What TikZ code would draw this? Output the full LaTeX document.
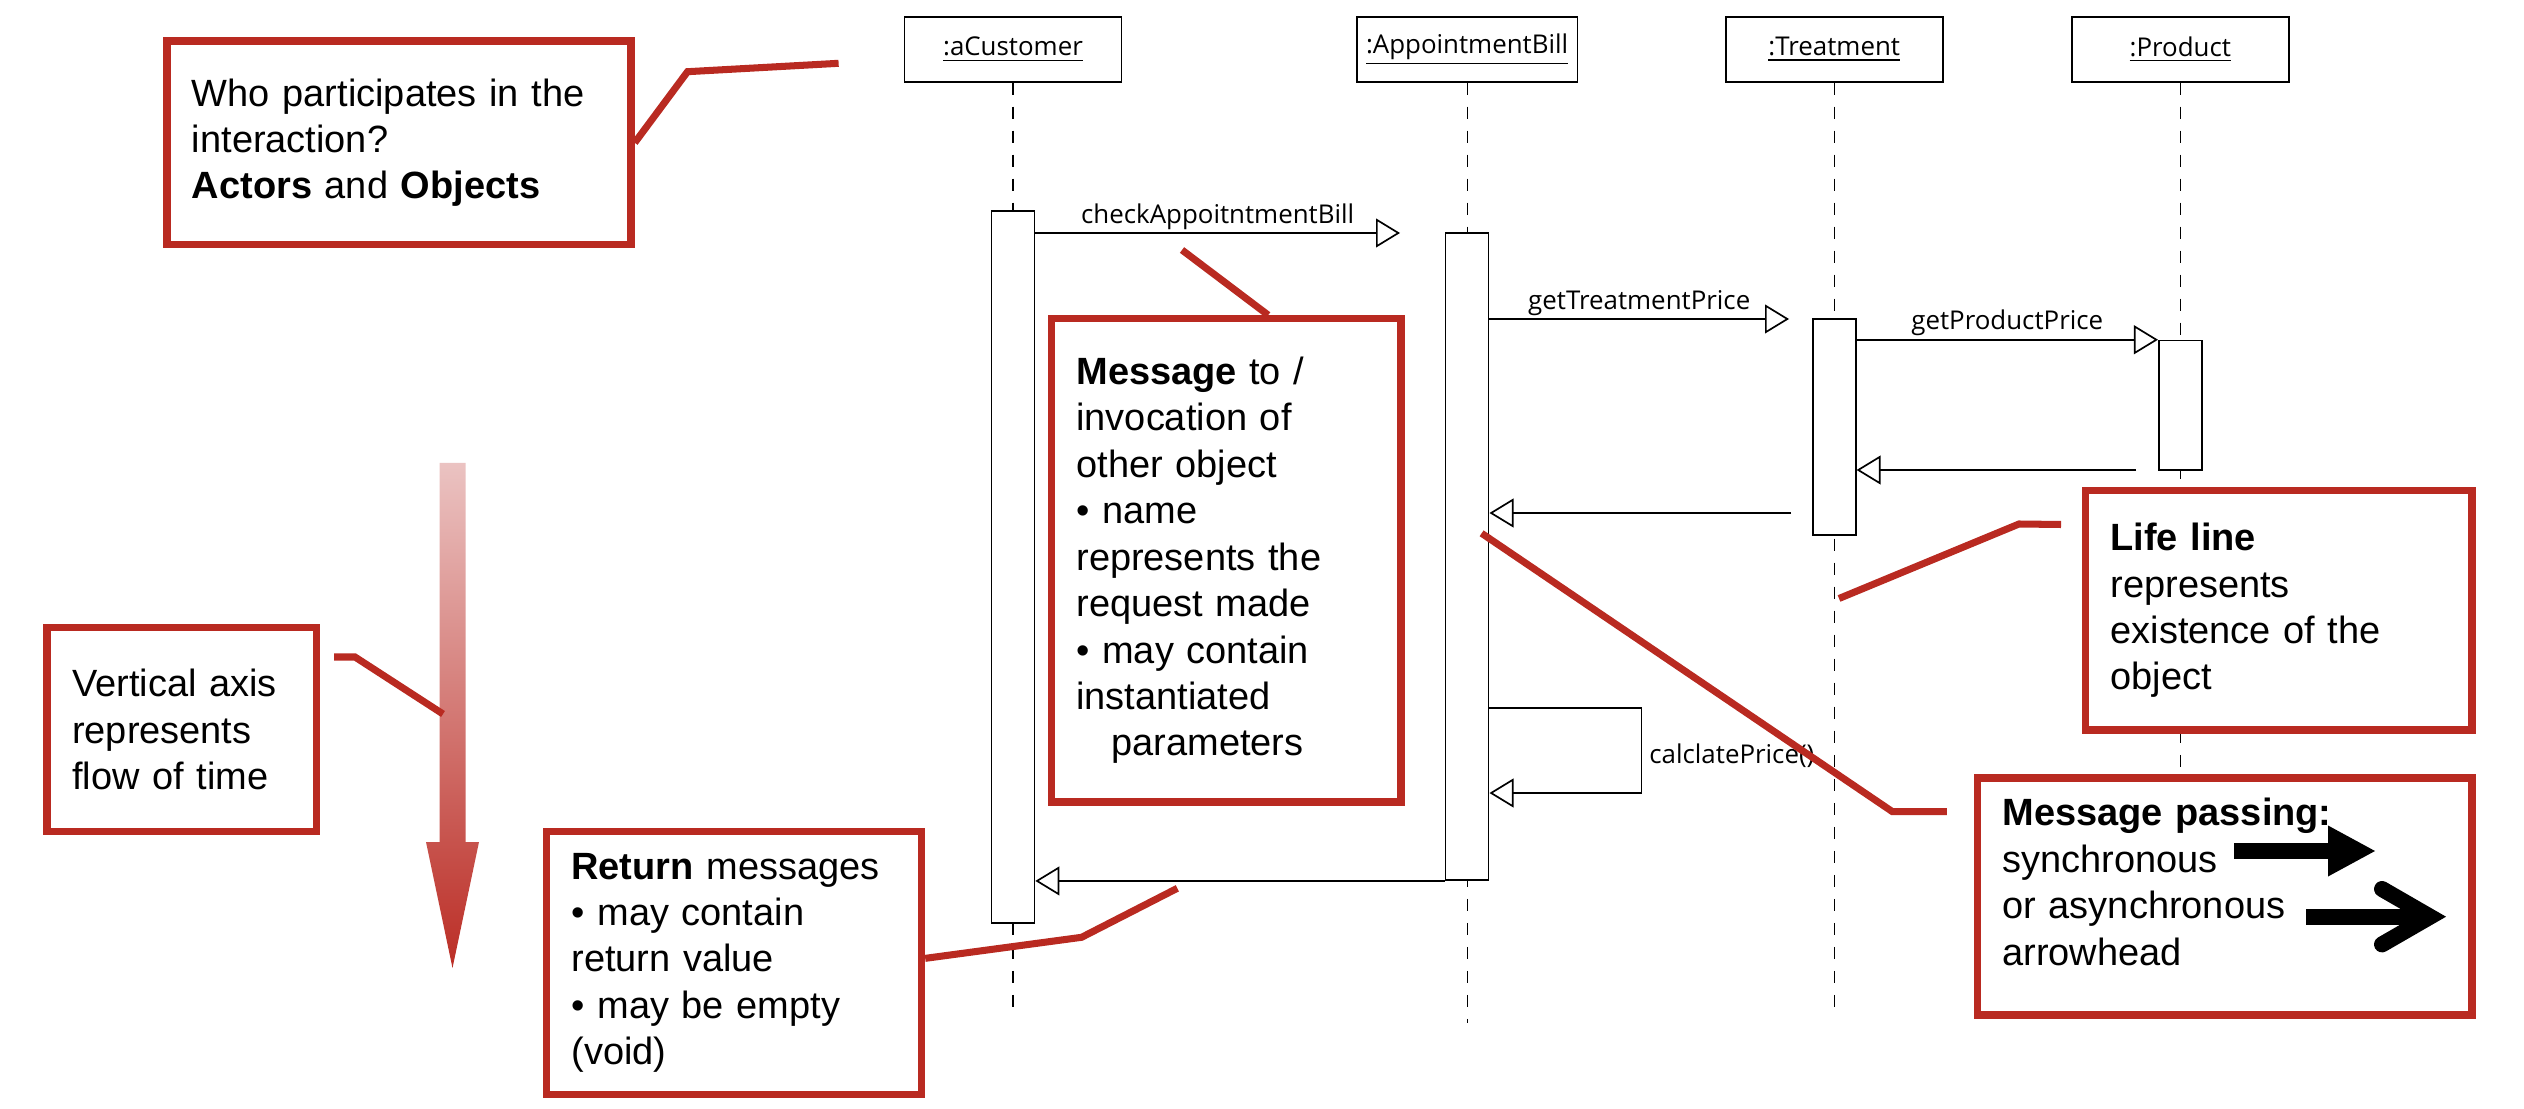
\documentclass[tikz,border=0pt]{standalone}
\usepackage{fontspec}
\setmainfont{Liberation Sans}
\newfontfamily\umlfont{Open Sans}
\usetikzlibrary{positioning,arrows.meta,calc}
\definecolor{noteRed}{HTML}{B92A21}
\definecolor{timeTop}{HTML}{EBC3C2}
\definecolor{timeBot}{HTML}{BB2D25}
\tikzset{
  obj/.style={draw, rectangle, line width=0.6pt, minimum width=2.7125cm, minimum height=0.806cm, font=\umlfont\fontsize{9.2}{11}\selectfont},
  bar/.style={draw, rectangle, fill=white, line width=0.6pt, minimum width=0.5375cm, inner sep=0pt},
  life/.style={line width=0.45pt, dash pattern=on 0.15cm off 0.15cm},
  msg/.style={line width=0.6pt, -{Triangle[open, length=0.3cm, width=0.36cm]}},
  lbl/.style={font=\umlfont\fontsize{9.2}{11}\selectfont, inner sep=1pt},
  note/.style={draw=noteRed, line width=2.6pt, fill=white, align=left, inner xsep=0.3125cm, inner ysep=0pt, font=\fontsize{13.5}{16.5}\selectfont},
  callout/.style={draw=noteRed, line width=2.5pt}
}
\begin{document}
\begin{tikzpicture}[x=0.0125cm, y=-0.0125cm, node distance=4.5cm]
    \useasboundingbox (0,0) rectangle (2524,1109);

    \node[obj] (cust) at (1013,49.5) {\underline{:aCustomer}};
    \node[obj, right of=cust, xshift=1.175cm] (bill) {\underline{:AppointmentBill}};
    \node[obj, right of=bill, xshift=0.0875cm] (treat) {\underline{:Treatment}};
    \node[obj, right of=treat, xshift=-0.175cm] (prod) {\underline{:Product}};

    % life lines
    \coordinate (custend) at (cust |- 0,1010);
    \coordinate (billend) at (bill |- 0,1023);
    \coordinate (treatend) at (treat |- 0,1009);
    \coordinate (prodend) at (prod |- 0,1009);
    \draw[life] (cust) -- (custend);
    \draw[life] (bill) -- (billend);
    \draw[life] (treat) -- (treatend);
    \draw[life] (prod) -- (prodend);

    \node[bar, minimum height=8.9cm] (custbar) at (cust |- 0,567) {};
    \node[bar, minimum height=8.0875cm] (billbar) at (bill |- 0,556.5) {};
    \node[bar, minimum height=2.7cm] (treatbar) at (treat |- 0,427) {};
    \node[bar, minimum height=1.6175cm] (prodbar) at (prod |- 0,405.3) {};

    % messages
    \coordinate (m1tip) at (1400,233);
    \draw[msg] (custbar.east |- m1tip) -- node[lbl, above] {checkAppoitntmentBill} (m1tip);
    \coordinate (m2tip) at (1789,319);
    \draw[msg] (billbar.east |- m2tip) -- node[lbl, above] {getTreatmentPrice} (m2tip);
    \draw[msg] (treatbar.east |- prodbar.north) -- node[lbl, above] {getProductPrice} (prodbar.north west);
    \coordinate (r1tail) at (2136,470);
    \draw[msg] (r1tail) -- (treatbar.east |- r1tail);
    \coordinate (r2tail) at (1791,513);
    \draw[msg] (r2tail) -- (billbar.east |- r2tail);
    \draw[msg] (billbar.east |- 0,708) -- ++(152,0)
        -- node[lbl, right, xshift=1.5pt, yshift=-2pt] {calclatePrice()} ++(0,85)
        -- (billbar.east |- 0,793);
    \draw[msg] (billbar.south west) -- (custbar.east |- billbar.south);

    % time axis
    \shade[top color=timeTop, bottom color=timeBot]
        (439.5,463) -- (465.5,463) -- (465.5,842) -- (479,842) -- (452.5,968)
        -- (426,842) -- (439.5,842) -- cycle;

    % notes
    \node[note, text width=5.175cm, minimum height=2.544cm] (whobox) at (399,142.75)
        {Who participates in the\\ interaction?\\ \textbf{Actors} and \textbf{Objects}};
    \node[note, text width=3.745cm, minimum height=6.04cm] (msgbox) at (1226.2,560.4)
        {\textbf{Message} to /\\ invocation of\\ other object\\ • name\\ represents the\\ request made\\ • may contain\\ instantiated\\ \hspace*{0.44cm}parameters};
    \node[note, text width=2.739cm, minimum height=2.544cm] (axisbox) at (181.75,729.45)
        {Vertical axis\\ represents\\ flow of time};
    \node[note, text width=4.0625cm, minimum height=3.291cm] (retbox) at (734,962.85)
        {\textbf{Return} messages\\ • may contain\\ return value\\ • may be empty\\ (void)};
    \node[note, text width=4.206cm, minimum height=2.99cm] (lifebox) at (2278.75,610.4)
        {\textbf{Life line}\\ represents\\ existence of the\\ object};
    \node[note, text width=5.556cm, minimum height=2.9625cm] (passbox) at (2224.75,896.5)
        {\textbf{Message passing:}\\ synchronous\\ or asynchronous\\ arrowhead\\[-6pt]\mbox{}};

    % callouts
    \coordinate (whoend) at (838.6,63.3);
    \draw[callout] (whobox.east) -- (687.5,71.7) -- (whoend);
    \coordinate (msgend) at (1182,250);
    \draw[callout] (msgend) -- ($(msgbox.north)+(42,0)$);
    \coordinate (axisstart) at (334,657);
    \coordinate (axisend) at (443,714);
    \draw[callout] (axisstart) -- (355,657) -- (axisend);
    \coordinate (retend) at (1177.3,888.3);
    \draw[callout] ($(retbox.east)+(0,-4.5)$) -- (1081.6,937.3) -- (retend);
    \coordinate (lifeptr) at (1839,598.5);
    \coordinate (lifetail) at (2061,524.5);
    \draw[callout] (lifeptr) -- (2019,524) -- (lifetail);
    \coordinate (passptr) at (1481.6,533.3);
    \coordinate (passtail) at (1946.8,811.6);
    \draw[callout] (passptr) -- (1892.3,811.6) -- (passtail);

    % arrowheads
    \draw[line width=0.2cm, -{Triangle[length=0.6cm, width=0.59cm]}] (2234,851) -- (2376,851);
    \draw[line width=0.2cm] (2306,916.7) -- (2428,916.7);
    \draw[line width=0.2cm, line cap=round] (2382,889) -- (2430,916.7) -- (2382,944.4);
\end{tikzpicture}
\end{document}
